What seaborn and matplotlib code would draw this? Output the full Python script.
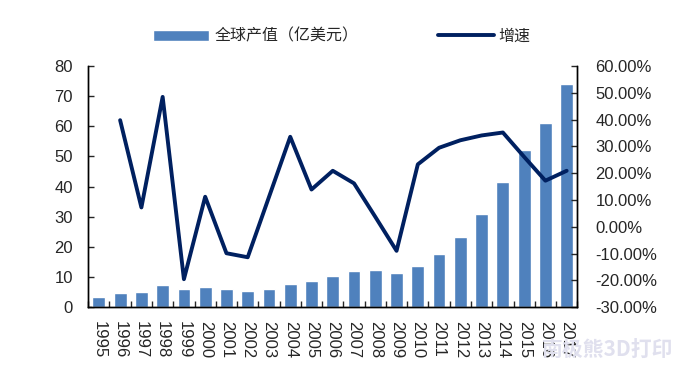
import numpy as np
import pandas as pd
import matplotlib.pyplot as plt
import seaborn as sns
from matplotlib.ticker import FuncFormatter

years = [str(y) for y in range(1995, 2018)]
output_value = [3.4, 4.8, 5.1, 7.2, 6.0, 6.6, 6.0, 5.4, 6.0, 7.6, 8.7, 10.3,
                12.1, 12.4, 11.3, 13.7, 17.7, 23.2, 30.8, 41.5, 52.3, 61.1, 74.0]
growth = [np.nan, 39.8, 7.2, 48.5, -19.6, 11.2, -9.9, -11.4, 11.1, 33.6, 13.9, 20.9,
          16.2, 3.7, -9.0, 23.3, 29.5, 32.3, 34.1, 35.2, 26.1, 17.2, 20.9]

bar_label = "全球产值（亿美元）"
line_label = "增速"

sns.set_theme(style="white")
plt.rcParams["font.family"] = ["Liberation Sans", "Noto Sans CJK SC"]

df = pd.DataFrame({"year": years, "value": output_value,
                   "growth": growth, "pos": range(len(years))})

fig = plt.figure(figsize=(6.84, 3.80), dpi=100)
ax = fig.add_axes([0.129, 0.192, 0.715, 0.634])

sns.barplot(data=df, x="year", y="value", color="#4F81BD", saturation=1,
            width=0.6, ax=ax, label=bar_label)
ax.set_ylim(0, 80)
ax.set_yticks(range(0, 81, 10))
ax.set_xlim(-0.5, len(years) - 0.5)
ax.set_xlabel("")
ax.set_ylabel("")

ax2 = ax.twinx()
sns.lineplot(data=df, x="pos", y="growth", color="#002060", linewidth=2.8,
             ax=ax2, label=line_label, solid_joinstyle="round")
ax2.set_ylim(-30, 60)
ax2.set_yticks(range(-30, 61, 10))
ax2.yaxis.set_major_formatter(FuncFormatter(lambda v, p: f"{v:.2f}%"))
ax2.set_xlim(-0.5, len(years) - 0.5)
ax2.set_xlabel("")
ax2.set_ylabel("")

for a in (ax, ax2):
    for s in a.spines.values():
        s.set_color("black")
        s.set_linewidth(1.0)
    a.spines["top"].set_visible(False)

ax.tick_params(axis="y", direction="in", length=4, width=1, labelsize=12, pad=11, left=True)
ax2.tick_params(axis="y", direction="in", length=4, width=1, labelsize=12, pad=13, right=True)
ax.set_xticks(range(len(years)))
ax.set_xticklabels(years, rotation=270)
ax.tick_params(axis="x", length=0, labelsize=12, pad=10)
ax.set_xticks(np.arange(-0.5, len(years), 1), minor=True)
ax.tick_params(axis="x", which="minor", direction="in", length=4, width=1, bottom=True)

h1, l1 = ax.get_legend_handles_labels()
h2, l2 = ax2.get_legend_handles_labels()
if ax.get_legend():
    ax.get_legend().remove()
if ax2.get_legend():
    ax2.get_legend().remove()
fig.legend(h1 + h2, l1 + l2, loc="center", bbox_to_anchor=(0.5, 0.905), ncol=2,
           frameon=False, fontsize=11.5, columnspacing=5.0, handlelength=3.5,
           handletextpad=0.3)

fig.text(0.984, 0.079, "南极熊3D打印", ha="right", va="center", fontsize=15,
         fontweight="bold", color="#e0e0ee", family=["Noto Sans CJK SC"], zorder=10)

fig.savefig("out.png", dpi=100)
